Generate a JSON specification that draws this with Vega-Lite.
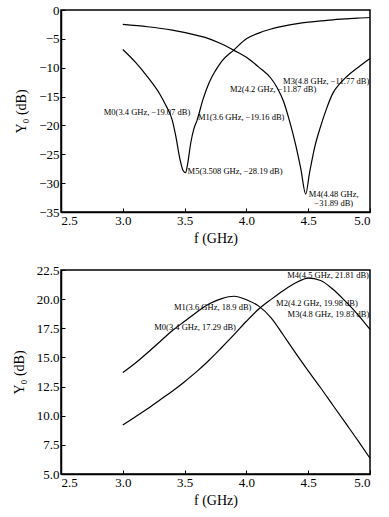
{
  "$schema": "https://vega.github.io/schema/vega-lite/v6.json",
  "padding": {"left": 11, "top": 3, "right": 5, "bottom": 5},
  "background": "white",
  "spacing": 17,
  "config": {
    "font": "Liberation Serif",
    "view": {"stroke": "black", "strokeWidth": 1.5},
    "axis": {"labelFont": "Liberation Serif", "labelFontSize": 13, "titleFont": "Liberation Serif", "titleFontSize": 14, "titleFontWeight": "normal", "labelColor": "black", "titleColor": "black", "domainColor": "black", "tickColor": "black", "domainWidth": 1.5, "grid": false, "tickSize": -4, "labelPadding": 6},
    "axisY": {"titlePadding": 10},
    "text": {"font": "Liberation Serif", "fontSize": 8.5, "color": "black", "baseline": "middle"}
  },
  "datasets": {
    "a": [
      {"curve": "A", "f": 3.0, "v": -6.84}, {"curve": "A", "f": 3.1, "v": -9.0}, {"curve": "A", "f": 3.2, "v": -11.6}, {"curve": "A", "f": 3.3, "v": -14.6}, {"curve": "A", "f": 3.35, "v": -16.6}, {"curve": "A", "f": 3.4, "v": -19.07}, {"curve": "A", "f": 3.43, "v": -22.0}, {"curve": "A", "f": 3.46, "v": -25.6}, {"curve": "A", "f": 3.49, "v": -27.9}, {"curve": "A", "f": 3.508, "v": -28.19}, {"curve": "A", "f": 3.525, "v": -26.6}, {"curve": "A", "f": 3.55, "v": -23.0}, {"curve": "A", "f": 3.575, "v": -20.6}, {"curve": "A", "f": 3.6, "v": -19.16}, {"curve": "A", "f": 3.65, "v": -15.4}, {"curve": "A", "f": 3.7, "v": -12.5}, {"curve": "A", "f": 3.75, "v": -10.5}, {"curve": "A", "f": 3.8, "v": -8.9}, {"curve": "A", "f": 3.9, "v": -6.9}, {"curve": "A", "f": 4.0, "v": -5.0}, {"curve": "A", "f": 4.1, "v": -4.0}, {"curve": "A", "f": 4.2, "v": -3.3}, {"curve": "A", "f": 4.3, "v": -2.8}, {"curve": "A", "f": 4.4, "v": -2.4}, {"curve": "A", "f": 4.5, "v": -2.1}, {"curve": "A", "f": 4.6, "v": -1.9}, {"curve": "A", "f": 4.7, "v": -1.7}, {"curve": "A", "f": 4.8, "v": -1.55}, {"curve": "A", "f": 4.9, "v": -1.4}, {"curve": "A", "f": 5.0, "v": -1.3},
      {"curve": "B", "f": 3.0, "v": -2.5}, {"curve": "B", "f": 3.2, "v": -2.9}, {"curve": "B", "f": 3.4, "v": -3.5}, {"curve": "B", "f": 3.6, "v": -4.4}, {"curve": "B", "f": 3.7, "v": -5.0}, {"curve": "B", "f": 3.8, "v": -5.9}, {"curve": "B", "f": 3.9, "v": -7.0}, {"curve": "B", "f": 4.0, "v": -8.2}, {"curve": "B", "f": 4.1, "v": -9.9}, {"curve": "B", "f": 4.2, "v": -11.87}, {"curve": "B", "f": 4.25, "v": -13.5}, {"curve": "B", "f": 4.3, "v": -15.8}, {"curve": "B", "f": 4.35, "v": -19.3}, {"curve": "B", "f": 4.4, "v": -23.5}, {"curve": "B", "f": 4.44, "v": -27.5}, {"curve": "B", "f": 4.48, "v": -31.89}, {"curve": "B", "f": 4.51, "v": -28.3}, {"curve": "B", "f": 4.55, "v": -24.0}, {"curve": "B", "f": 4.6, "v": -20.2}, {"curve": "B", "f": 4.65, "v": -17.0}, {"curve": "B", "f": 4.7, "v": -14.4}, {"curve": "B", "f": 4.75, "v": -12.9}, {"curve": "B", "f": 4.8, "v": -11.77}, {"curve": "B", "f": 4.9, "v": -10.0}, {"curve": "B", "f": 5.0, "v": -8.4}
    ],
    "b": [
      {"curve": "C", "f": 3.0, "v": 13.7}, {"curve": "C", "f": 3.1, "v": 14.5}, {"curve": "C", "f": 3.2, "v": 15.4}, {"curve": "C", "f": 3.3, "v": 16.35}, {"curve": "C", "f": 3.4, "v": 17.29}, {"curve": "C", "f": 3.5, "v": 18.1}, {"curve": "C", "f": 3.6, "v": 18.9}, {"curve": "C", "f": 3.7, "v": 19.6}, {"curve": "C", "f": 3.8, "v": 20.05}, {"curve": "C", "f": 3.9, "v": 20.25}, {"curve": "C", "f": 4.0, "v": 19.95}, {"curve": "C", "f": 4.1, "v": 19.4}, {"curve": "C", "f": 4.2, "v": 18.4}, {"curve": "C", "f": 4.3, "v": 16.9}, {"curve": "C", "f": 4.4, "v": 15.35}, {"curve": "C", "f": 4.5, "v": 13.85}, {"curve": "C", "f": 4.6, "v": 12.4}, {"curve": "C", "f": 4.7, "v": 10.9}, {"curve": "C", "f": 4.8, "v": 9.4}, {"curve": "C", "f": 4.9, "v": 7.9}, {"curve": "C", "f": 5.0, "v": 6.35},
      {"curve": "D", "f": 3.0, "v": 9.2}, {"curve": "D", "f": 3.1, "v": 9.9}, {"curve": "D", "f": 3.2, "v": 10.6}, {"curve": "D", "f": 3.3, "v": 11.35}, {"curve": "D", "f": 3.4, "v": 12.1}, {"curve": "D", "f": 3.5, "v": 12.92}, {"curve": "D", "f": 3.6, "v": 13.8}, {"curve": "D", "f": 3.7, "v": 14.78}, {"curve": "D", "f": 3.8, "v": 15.85}, {"curve": "D", "f": 3.9, "v": 16.95}, {"curve": "D", "f": 4.0, "v": 18.1}, {"curve": "D", "f": 4.1, "v": 19.15}, {"curve": "D", "f": 4.2, "v": 19.98}, {"curve": "D", "f": 4.3, "v": 20.75}, {"curve": "D", "f": 4.4, "v": 21.4}, {"curve": "D", "f": 4.5, "v": 21.81}, {"curve": "D", "f": 4.6, "v": 21.6}, {"curve": "D", "f": 4.7, "v": 20.85}, {"curve": "D", "f": 4.8, "v": 19.83}, {"curve": "D", "f": 4.9, "v": 18.7}, {"curve": "D", "f": 5.0, "v": 17.4}
    ],
    "ma": [
      {"id": "M0", "f": 3.4, "v": -19.07, "label": "M0(3.4 GHz, −19.07 dB)"},
      {"id": "M1", "f": 3.6, "v": -19.16, "label": "M1(3.6 GHz, −19.16 dB)"},
      {"id": "M2", "f": 4.2, "v": -11.87, "label": "M2(4.2 GHz, −11.87 dB)"},
      {"id": "M3", "f": 4.8, "v": -11.77, "label": "M3(4.8 GHz, −11.77 dB)"},
      {"id": "M4", "f": 4.48, "v": -31.89, "label": "M4(4.48 GHz,\n−31.89 dB)"},
      {"id": "M5", "f": 3.508, "v": -28.19, "label": "M5(3.508 GHz, −28.19 dB)"}
    ],
    "mb": [
      {"id": "M0", "f": 3.4, "v": 17.29, "label": "M0(3.4 GHz, 17.29 dB)"},
      {"id": "M1", "f": 3.6, "v": 18.9, "label": "M1(3.6 GHz, 18.9 dB)"},
      {"id": "M2", "f": 4.2, "v": 19.98, "label": "M2(4.2 GHz, 19.98 dB)"},
      {"id": "M3", "f": 4.8, "v": 19.83, "label": "M3(4.8 GHz, 19.83 dB)"},
      {"id": "M4", "f": 4.5, "v": 21.81, "label": "M4(4.5 GHz, 21.81 dB)"}
    ]
  },
  "vconcat": [
    {
      "width": 309,
      "height": 202,
      "encoding": {
        "x": {"field": "f", "type": "quantitative", "scale": {"domain": [2.5, 5.0], "nice": false}, "axis": {"values": [2.5, 3.0, 3.5, 4.0, 4.5, 5.0], "format": ".1f", "title": "f (GHz)"}},
        "y": {"field": "v", "type": "quantitative", "scale": {"domain": [-35, 0], "nice": false, "zero": false}, "axis": {"values": [-35, -30, -25, -20, -15, -10, -5, 0], "format": "d", "title": "Y₀ (dB)"}}
      },
      "layer": [
        {"data": {"name": "a"}, "mark": {"type": "line", "color": "black", "strokeWidth": 1.2, "interpolate": "monotone"}, "encoding": {"detail": {"field": "curve"}}},
        {"data": {"name": "ma"}, "transform": [{"filter": "datum.id == 'M0'"}], "mark": {"type": "text", "align": "right", "dx": 18, "dy": -8}, "encoding": {"text": {"field": "label"}}},
        {"data": {"name": "ma"}, "transform": [{"filter": "datum.id == 'M1'"}], "mark": {"type": "text", "align": "left", "dx": 1, "dy": -4}, "encoding": {"text": {"field": "label"}}},
        {"data": {"name": "ma"}, "transform": [{"filter": "datum.id == 'M2'"}], "mark": {"type": "text", "align": "center", "dx": 2, "dy": 10}, "encoding": {"text": {"field": "label"}}},
        {"data": {"name": "ma"}, "transform": [{"filter": "datum.id == 'M3'"}], "mark": {"type": "text", "align": "right", "dx": 24, "dy": 3}, "encoding": {"text": {"field": "label"}}},
        {"data": {"name": "ma"}, "transform": [{"filter": "datum.id == 'M4'"}], "mark": {"type": "text", "align": "center", "dx": 28, "dy": 0, "lineBreak": "\n", "lineHeight": 9}, "encoding": {"text": {"field": "label"}}},
        {"data": {"name": "ma"}, "transform": [{"filter": "datum.id == 'M5'"}], "mark": {"type": "text", "align": "left", "dx": 2, "dy": -2}, "encoding": {"text": {"field": "label"}}},
        {"data": {"values": [{}]}, "mark": {"type": "text", "align": "left", "dx": 5, "dy": 13, "fontSize": 13}, "encoding": {"x": {"datum": 2.5, "type": "quantitative"}, "y": {"datum": 0, "type": "quantitative"}, "text": {"value": "(a)"}}}
      ]
    },
    {
      "width": 309,
      "height": 204,
      "encoding": {
        "x": {"field": "f", "type": "quantitative", "scale": {"domain": [2.5, 5.0], "nice": false}, "axis": {"values": [2.5, 3.0, 3.5, 4.0, 4.5, 5.0], "format": ".1f", "title": "f (GHz)"}},
        "y": {"field": "v", "type": "quantitative", "scale": {"domain": [5, 22.5], "nice": false, "zero": false}, "axis": {"values": [5, 7.5, 10, 12.5, 15, 17.5, 20, 22.5], "format": ".1f", "title": "Y₀ (dB)"}}
      },
      "layer": [
        {"data": {"name": "b"}, "mark": {"type": "line", "color": "black", "strokeWidth": 1.2, "interpolate": "monotone"}, "encoding": {"detail": {"field": "curve"}}},
        {"data": {"name": "mb"}, "transform": [{"filter": "datum.id == 'M0'"}], "mark": {"type": "text", "align": "left", "dx": -18, "dy": -4}, "encoding": {"text": {"field": "label"}}},
        {"data": {"name": "mb"}, "transform": [{"filter": "datum.id == 'M1'"}], "mark": {"type": "text", "align": "left", "dx": -23, "dy": -5}, "encoding": {"text": {"field": "label"}}},
        {"data": {"name": "mb"}, "transform": [{"filter": "datum.id == 'M2'"}], "mark": {"type": "text", "align": "left", "dx": 5, "dy": 4}, "encoding": {"text": {"field": "label"}}},
        {"data": {"name": "mb"}, "transform": [{"filter": "datum.id == 'M3'"}], "mark": {"type": "text", "align": "right", "dx": 24, "dy": 13}, "encoding": {"text": {"field": "label"}}},
        {"data": {"name": "mb"}, "transform": [{"filter": "datum.id == 'M4'"}], "mark": {"type": "text", "align": "left", "dx": -21, "dy": -3}, "encoding": {"text": {"field": "label"}}},
        {"data": {"values": [{}]}, "mark": {"type": "text", "align": "left", "dx": 3, "dy": 15, "fontSize": 13}, "encoding": {"x": {"datum": 2.5, "type": "quantitative"}, "y": {"datum": 22.5, "type": "quantitative"}, "text": {"value": "(b)"}}}
      ]
    }
  ]
}
